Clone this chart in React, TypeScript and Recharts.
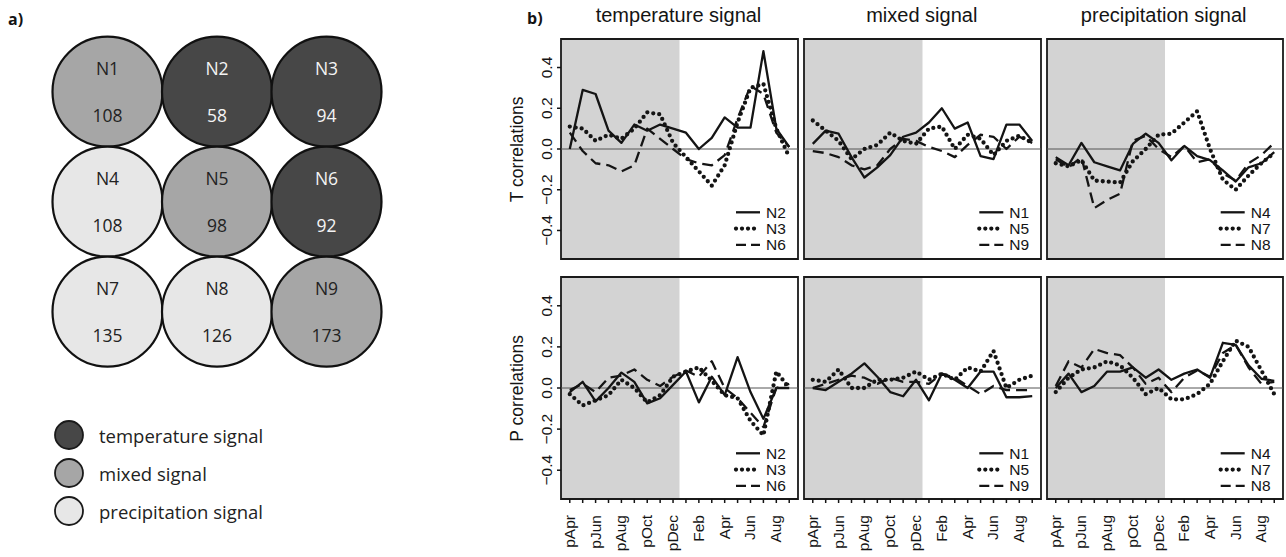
import React from 'react';
import { LineChart, Line, XAxis, YAxis, ReferenceArea, ReferenceLine, ScatterChart, Scatter } from 'recharts';

// ---------- data ----------
const MONTHS = ['pApr', 'pMay', 'pJun', 'pJul', 'pAug', 'pSep', 'pOct', 'pNov', 'pDec', 'Jan', 'Feb', 'Mar', 'Apr', 'May', 'Jun', 'Jul', 'Aug', 'Sep'];
const LABELED_MONTHS = ['pApr', 'pJun', 'pAug', 'pOct', 'pDec', 'Feb', 'Apr', 'Jun', 'Aug'];
const Y_TICKS = [-0.4, -0.2, 0, 0.2, 0.4];

const NODE_NAMES = ['N1', 'N2', 'N3', 'N4', 'N5', 'N6', 'N7', 'N8', 'N9'];
const NODE_COUNTS = [108, 58, 94, 108, 98, 92, 135, 126, 173];
const NODE_SIGNAL = ['mixed', 'temperature', 'temperature', 'precipitation', 'mixed', 'temperature', 'precipitation', 'precipitation', 'mixed'];
const SIGNAL_KEYS = ['temperature', 'mixed', 'precipitation'];
const SIGNAL_LABELS = ['temperature signal', 'mixed signal', 'precipitation signal'];

const PANEL_TITLES = ['temperature signal', 'mixed signal', 'precipitation signal'];
const ROW_LABELS = ['T correlations', 'P correlations'];
const GROUP_NODES = [['N2', 'N3', 'N6'], ['N1', 'N5', 'N9'], ['N4', 'N7', 'N8']];

// T correlations
const T_N2 = [0.0, 0.29, 0.27, 0.09, 0.03, 0.12, 0.09, 0.12, 0.1, 0.08, 0.0, 0.055, 0.155, 0.105, 0.105, 0.48, 0.1, 0.01];
const T_N3 = [0.11, 0.1, 0.04, 0.07, 0.05, 0.1, 0.18, 0.17, 0.03, -0.04, -0.11, -0.18, -0.08, 0.13, 0.3, 0.32, 0.1, -0.04];
const T_N6 = [0.08, -0.01, -0.07, -0.08, -0.11, -0.08, 0.1, 0.05, 0.0, -0.05, -0.07, -0.08, -0.03, 0.15, 0.31, 0.27, 0.08, 0.01];
const T_N1 = [0.025, 0.09, 0.075, -0.04, -0.14, -0.09, -0.03, 0.06, 0.08, 0.13, 0.2, 0.1, 0.13, -0.035, -0.05, 0.12, 0.12, 0.04];
const T_N5 = [0.14, 0.09, 0.04, -0.05, 0.0, 0.02, 0.08, 0.04, 0.025, 0.1, 0.11, 0.0, 0.07, 0.05, -0.03, 0.04, 0.065, 0.03];
const T_N9 = [-0.01, -0.02, -0.04, -0.08, -0.1, -0.08, 0.0, 0.05, 0.04, 0.01, -0.01, -0.04, 0.02, 0.07, 0.06, 0.0, 0.06, 0.03];
const T_N4 = [-0.04, -0.08, 0.03, -0.065, -0.085, -0.105, 0.025, 0.075, 0.03, -0.055, 0.015, -0.035, -0.055, -0.105, -0.16, -0.09, -0.07, -0.015];
const T_N7 = [-0.07, -0.085, -0.055, -0.155, -0.16, -0.165, -0.06, 0.0, 0.07, 0.075, 0.13, 0.185, 0.0, -0.15, -0.2, -0.13, -0.07, -0.02];
const T_N8 = [-0.05, -0.09, -0.04, -0.29, -0.25, -0.22, 0.04, 0.065, 0.0, -0.04, 0.015, -0.065, -0.05, -0.12, -0.155, -0.07, -0.03, 0.03];

// P correlations
const P_N2 = [-0.02, 0.03, -0.065, 0.0, 0.075, 0.03, -0.075, -0.05, 0.015, 0.08, -0.07, 0.055, -0.035, 0.15, -0.02, -0.15, 0.0, 0.0];
const P_N3 = [-0.03, -0.085, -0.06, -0.035, 0.04, 0.0, -0.07, -0.035, 0.055, 0.08, 0.1, 0.035, -0.035, -0.05, -0.16, -0.23, 0.08, 0.0];
const P_N6 = [-0.01, 0.02, -0.02, 0.05, 0.06, 0.09, 0.04, 0.01, 0.055, 0.085, 0.055, 0.13, 0.0, -0.05, -0.12, -0.19, 0.0, 0.02];
const P_N1 = [0.0, -0.01, 0.03, 0.07, 0.12, 0.055, -0.02, -0.04, 0.04, -0.06, 0.07, 0.04, 0.0, 0.08, 0.08, -0.045, -0.045, -0.04];
const P_N5 = [0.04, 0.03, 0.09, 0.0, 0.0, 0.04, 0.04, 0.05, 0.08, 0.04, 0.07, 0.04, 0.1, 0.08, 0.18, 0.0, 0.04, 0.06];
const P_N9 = [0.0, 0.02, 0.04, 0.06, 0.05, 0.02, 0.05, 0.03, 0.03, 0.02, 0.07, 0.05, 0.01, -0.03, 0.01, -0.01, -0.01, -0.01];
const P_N4 = [0.0, 0.07, -0.02, 0.01, 0.08, 0.08, 0.1, 0.05, 0.09, 0.04, 0.07, 0.09, 0.05, 0.22, 0.21, 0.11, 0.045, 0.035];
const P_N7 = [-0.02, 0.05, 0.09, 0.1, 0.13, 0.11, 0.05, -0.03, 0.0, -0.055, -0.055, -0.03, 0.02, 0.13, 0.23, 0.2, 0.085, -0.03];
const P_N8 = [0.01, 0.13, 0.1, 0.19, 0.17, 0.16, 0.1, 0.02, 0.05, -0.02, 0.05, 0.085, 0.055, 0.17, 0.21, 0.1, 0.02, 0.03];

const T_SERIES = [[T_N2, T_N3, T_N6], [T_N1, T_N5, T_N9], [T_N4, T_N7, T_N8]];
const P_SERIES = [[P_N2, P_N3, P_N6], [P_N1, P_N5, P_N9], [P_N4, P_N7, P_N8]];

// ---------- styles ----------
const R_FONT = '"Liberation Sans", Arial, Helvetica, sans-serif';
const A_FONT = '"Open Sans", "Noto Sans", sans-serif';
const INK = '#141414';
const SIGNAL_FILL: Record<string, string> = { temperature: '#474747', mixed: '#a6a6a6', precipitation: '#e7e7e7' };
const LINE_STYLES = [
  { strokeWidth: 2.3, strokeDasharray: undefined as string | undefined, strokeLinecap: 'butt' as const },
  { strokeWidth: 4.3, strokeDasharray: '0 6', strokeLinecap: 'round' as const },
  { strokeWidth: 2.3, strokeDasharray: '11 6', strokeLinecap: 'butt' as const },
];

const X_MIN = 0.32;
const X_MAX = 18.68;
const Y_MIN = -0.54;
const Y_MAX = 0.54;
const SHADE_END = 9.5;
const MONTH_IDX = MONTHS.map((_, i) => i + 1);

const COL_X = [561, 804.3, 1046.7];
const COL_W = [237, 237, 236];
const ROW_Y = [39.3, 277.3];
const ROW_H = [220, 222];

const fmtY = (v: number) => (v === 0 ? '0.0' : v.toFixed(1).replace('-', '\u2212'));

function XTick(props: any) {
  const { x, y, payload } = props;
  const label = MONTHS[Math.round(payload.value) - 1];
  if (!LABELED_MONTHS.includes(label)) return <g />;
  const bx = x + 5;
  const by = y + 10;
  return (
    <text x={bx} y={by} transform={`rotate(-90 ${bx} ${by})`} textAnchor="end" fontSize={15.5} fontFamily={R_FONT} fill={INK}>
      {label}
    </text>
  );
}

function YTick(props: any) {
  const { x, y, payload } = props;
  const bx = x - 3;
  return (
    <text x={bx} y={y} transform={`rotate(-90 ${bx} ${y})`} textAnchor="middle" fontSize={15.5} fontFamily={R_FONT} fill={INK}>
      {fmtY(payload.value)}
    </text>
  );
}

function Panel({ col, row }: { col: number; row: number }) {
  const x = COL_X[col];
  const y = ROW_Y[row];
  const w = COL_W[col];
  const h = ROW_H[row];
  const showX = row === 1;
  const showY = col === 0;
  const series = row === 0 ? T_SERIES[col] : P_SERIES[col];
  const names = GROUP_NODES[col];
  const data = MONTHS.map((m, i) => {
    const d: any = { idx: i + 1, month: m };
    names.forEach((n, k) => (d[n] = series[k][i]));
    return d;
  });
  const padL = showY ? 60 : 4;
  const padB = showX ? 62 : 4;
  const padT = 4;
  const padR = 4;
  return (
    <div style={{ position: 'absolute', left: x - padL, top: y - padT }}>
      <LineChart
        width={w + padL + padR}
        height={h + padT + padB}
        data={data}
        margin={{ top: padT, right: padR, left: showY ? 0 : padL, bottom: showX ? 0 : padB }}
      >
        <XAxis
          dataKey="idx"
          type="number"
          domain={[X_MIN, X_MAX]}
          ticks={MONTH_IDX}
          allowDataOverflow
          hide={!showX}
          height={padB}
          axisLine={false}
          tickSize={4}
          tickLine={{ stroke: INK, strokeWidth: 1.5 }}
          tick={<XTick />}
          interval={0}
        />
        <YAxis
          type="number"
          domain={[Y_MIN, Y_MAX]}
          ticks={Y_TICKS}
          allowDataOverflow
          hide={!showY}
          width={padL}
          axisLine={false}
          tickSize={4}
          tickLine={{ stroke: INK, strokeWidth: 1.5 }}
          tick={<YTick />}
          interval={0}
        />
        <ReferenceArea x1={X_MIN} x2={SHADE_END} y1={Y_MIN} y2={Y_MAX} fill="#d3d3d3" fillOpacity={1} stroke="none" ifOverflow="visible" />
        <ReferenceLine y={0} stroke="#555" strokeWidth={1} ifOverflow="visible" />
        {names.map((n, k) => (
          <Line
            key={n}
            dataKey={n}
            type="linear"
            stroke={INK}
            strokeWidth={LINE_STYLES[k].strokeWidth}
            strokeDasharray={LINE_STYLES[k].strokeDasharray}
            strokeLinecap={LINE_STYLES[k].strokeLinecap}
            strokeLinejoin="round"
            dot={false}
            activeDot={false}
            isAnimationActive={false}
          />
        ))}
        <ReferenceArea x1={X_MIN} x2={X_MAX} y1={Y_MIN} y2={Y_MAX} fill="none" stroke="#1a1a1a" strokeWidth={1.8} ifOverflow="visible" />
      </LineChart>
    </div>
  );
}

function NodeShape(props: any) {
  const { cx, cy, payload } = props;
  const dark = payload.signal === 'temperature';
  const tc = dark ? '#f4f4f4' : '#222';
  return (
    <g>
      <circle cx={cx} cy={cy} r={55} fill={SIGNAL_FILL[payload.signal]} stroke="#111" strokeWidth={2.2} />
      <text x={cx} y={cy - 23.4} textAnchor="middle" dominantBaseline="central" fontSize={17.5} fontFamily={A_FONT} fill={tc}>
        {payload.name}
      </text>
      <text x={cx} y={cy + 23.3} textAnchor="middle" dominantBaseline="central" fontSize={17.5} fontFamily={A_FONT} fill={tc}>
        {payload.count}
      </text>
    </g>
  );
}

function NodeGrid() {
  const nodeData = NODE_NAMES.map((n, i) => ({
    col: (i % 3) + 1,
    row: Math.floor(i / 3) + 1,
    name: n,
    count: NODE_COUNTS[i],
    signal: NODE_SIGNAL[i],
  }));
  return (
    <div style={{ position: 'absolute', left: 0, top: 0 }}>
      <ScatterChart width={400} height={400} margin={{ left: 52.75, top: 36.7, right: 18.75, bottom: 33.3 }}>
        <XAxis type="number" dataKey="col" domain={[0.5, 3.5]} hide />
        <YAxis type="number" dataKey="row" domain={[0.5, 3.5]} reversed hide />
        <Scatter data={nodeData} shape={<NodeShape />} isAnimationActive={false} />
      </ScatterChart>
    </div>
  );
}

function Overlay() {
  const items: React.ReactNode[] = [];
  PANEL_TITLES.forEach((t, c) => {
    items.push(
      <text key={'t' + c} x={COL_X[c] + COL_W[c] / 2 - 1} y={22} textAnchor="middle" fontSize={20} fontFamily={R_FONT} fill={INK}>
        {t}
      </text>
    );
  });
  ROW_LABELS.forEach((t, r) => {
    const cy = ROW_Y[r] + ROW_H[r] / 2;
    items.push(
      <text key={'r' + r} x={523} y={cy} transform={`rotate(-90 523 ${cy})`} textAnchor="middle" fontSize={17.5} fontFamily={R_FONT} fill={INK}>
        {t}
      </text>
    );
  });
  for (let r = 0; r < 2; r++) {
    for (let c = 0; c < 3; c++) {
      const px = COL_X[c];
      const pw = COL_W[c];
      const base = ROW_Y[r] + ROW_H[r];
      GROUP_NODES[c].forEach((n, k) => {
        const ly = base - 47 + k * 16.3 + (r === 1 ? 1 : 0);
        const st = LINE_STYLES[k];
        items.push(
          <g key={`lg${r}${c}${k}`}>
            <line
              x1={px + pw - 62}
              x2={px + pw - 38}
              y1={ly}
              y2={ly}
              stroke={INK}
              strokeWidth={st.strokeWidth}
              strokeDasharray={k === 2 ? '10 5' : st.strokeDasharray}
              strokeLinecap={st.strokeLinecap}
            />
            <text x={px + pw - 32} y={ly} dominantBaseline="central" fontSize={15.5} fontFamily={R_FONT} fill={INK}>
              {n}
            </text>
          </g>
        );
      });
    }
  }
  items.push(
    <text key="a" x={8} y={25} fontSize={16} fontWeight="bold" fontFamily={A_FONT} fill={INK}>
      a)
    </text>
  );
  items.push(
    <text key="b" x={527} y={24} fontSize={16} fontWeight="bold" fontFamily={A_FONT} fill={INK}>
      b)
    </text>
  );
  SIGNAL_KEYS.forEach((s, i) => {
    const cy = 435 + i * 38;
    items.push(
      <g key={'s' + i}>
        <circle cx={69} cy={cy} r={14} fill={SIGNAL_FILL[s]} stroke="#1a1a1a" strokeWidth={1.8} />
        <text x={99} y={cy} dominantBaseline="central" fontSize={18.5} fontFamily={A_FONT} fill="#222">
          {SIGNAL_LABELS[i]}
        </text>
      </g>
    );
  });
  return (
    <svg width={1286} height={557} style={{ position: 'absolute', left: 0, top: 0, pointerEvents: 'none' }}>
      {items}
    </svg>
  );
}

export default function App() {
  return (
    <div style={{ position: 'absolute', left: 0, top: 0, width: 1286, height: 557, background: '#fff', overflow: 'hidden' }}>
      <NodeGrid />
      {[0, 1].map((r) => [0, 1, 2].map((c) => <Panel key={`${r}-${c}`} col={c} row={r} />))}
      <Overlay />
    </div>
  );
}
